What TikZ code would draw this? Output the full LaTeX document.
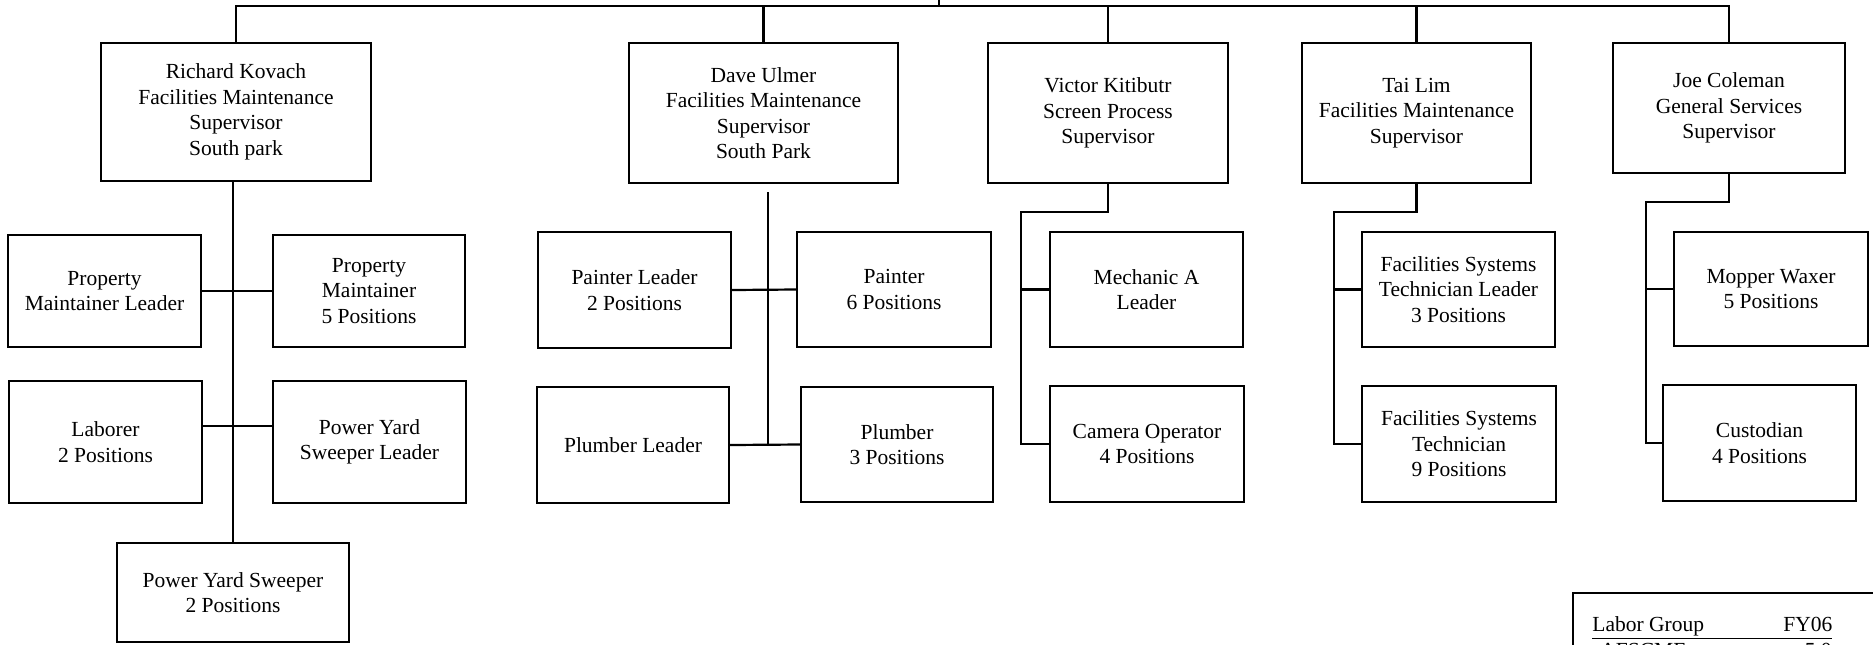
\documentclass[tikz,border=0pt]{standalone}
\usepackage{fontspec}
\setmainfont{Liberation Serif}
\tikzset{
  box/.style={draw, line width=1.2pt, inner sep=0pt, align=center,
    font=\fontsize{10.75}{12.75}\selectfont},
  link/.style={line width=1.1pt},
  plain/.style={inner sep=0pt, font=\fontsize{10.75}{12.75}\selectfont},
}
\newcommand\mybox[6]{\node[box,minimum width={(#4-#2)*0.5pt},minimum height={(#5-#3)*0.5pt}] (#1) at ({(#2+#4)/2},{(#3+#5)/2}) {#6};}
\begin{document}
\begin{tikzpicture}[x=0.5pt,y=-0.5pt]
\useasboundingbox (0,0) rectangle (1873,644);
\clip (0,0) rectangle (1873,644);
% supervisors
\mybox{richard}{101}{43}{371}{181}{Richard Kovach\\Facilities Maintenance\\Supervisor\\South park}
\mybox{dave}{629}{43}{898}{183}{Dave Ulmer\\Facilities Maintenance\\Supervisor\\South Park}
\mybox{victor}{988}{43}{1228}{183}{Victor Kitibutr\\Screen Process\\Supervisor}
\mybox{tai}{1302}{43}{1531}{183}{Tai Lim\\Facilities Maintenance\\Supervisor}
\mybox{joe}{1613}{43}{1845}{173}{Joe Coleman\\General Services\\Supervisor}
% Richard's group
\mybox{pml}{8}{235}{201}{347}{Property\\Maintainer Leader}
\mybox{pm}{273}{235}{465}{347}{Property\\Maintainer\\5 Positions}
\mybox{lab}{9}{381}{202}{503}{Laborer\\2 Positions}
\mybox{pysl}{273}{381}{466}{503}{Power Yard\\Sweeper Leader}
\mybox{pys}{117}{543}{349}{642}{Power Yard Sweeper\\2 Positions}
% Dave's group
\mybox{pl}{538}{232}{731}{348}{Painter Leader\\2 Positions}
\mybox{painter}{797}{232}{991}{347}{Painter\\6 Positions}
\mybox{plul}{537}{387}{729}{503}{Plumber Leader}
\mybox{plumber}{801}{387}{993}{502}{Plumber\\3 Positions}
% Victor's group
\mybox{mech}{1050}{232}{1243}{347}{Mechanic A\\Leader}
\mybox{cam}{1050}{386}{1244}{502}{Camera Operator\\4 Positions}
% Tai's group
\mybox{fstl}{1362}{232}{1555}{347}{Facilities Systems\\Technician Leader\\3 Positions}
\mybox{fst}{1362}{386}{1556}{502}{Facilities Systems\\Technician\\9 Positions}
% Joe's group
\mybox{mop}{1674}{232}{1868}{346}{Mopper Waxer\\5 Positions}
\mybox{cus}{1663}{385}{1856}{501}{Custodian\\4 Positions}
% labor group table
\node[box, anchor=north west, minimum width=170pt, minimum height=60pt] (labor) at (1572,592) {};
\node[plain, anchor=base west] (lg) at (1592,631) {\underline{\makebox[120pt]{Labor Group\hfill FY06}}};
\node[plain, anchor=base west] (afs) at (1600,657) {AFSCME};
\node[plain, anchor=base east] (afsv) at (1832,657) {5.0};
% top bus
\coordinate (parent) at (939,0);
\coordinate (bus) at (939,6);
\draw[link] (richard.north) |- (bus) -| (joe.north);
\draw[link] (parent) -- (bus);
\draw[link] (dave.north) -- (dave.north |- bus);
\draw[link] (victor.north) -- (victor.north |- bus);
\draw[link] (tai.north) -- (tai.north |- bus);
% Richard connectors
\draw[link] (pys.north |- richard.south) -- (pys.north);
\draw[link] (pml.east) -- (pm.west);
\draw[link] ([yshift=8pt]lab.east) -- ([yshift=8pt]pysl.west);
% Dave connectors
\coordinate (dtop) at (768,192);
\draw[link] (dtop) -- (dtop |- plul.east);
\draw[link] (pl.east) -- (painter.west);
\draw[link] (plul.east) -- (plumber.west);
% Victor connectors
\coordinate (vj) at (1021,212);
\draw[link] (victor.south) |- (vj) |- (cam.west);
\draw[link] (mech.west) -- (mech.west -| vj);
% Tai connectors
\coordinate (tj) at (1334,212);
\draw[link] (tai.south) |- (tj) |- (fst.west);
\draw[link] (fstl.west) -- (fstl.west -| tj);
% Joe connectors
\coordinate (jj) at (1646,202);
\draw[link] (joe.south) |- (jj) |- (cus.west);
\draw[link] (mop.west) -- (mop.west -| jj);
\end{tikzpicture}
\end{document}
